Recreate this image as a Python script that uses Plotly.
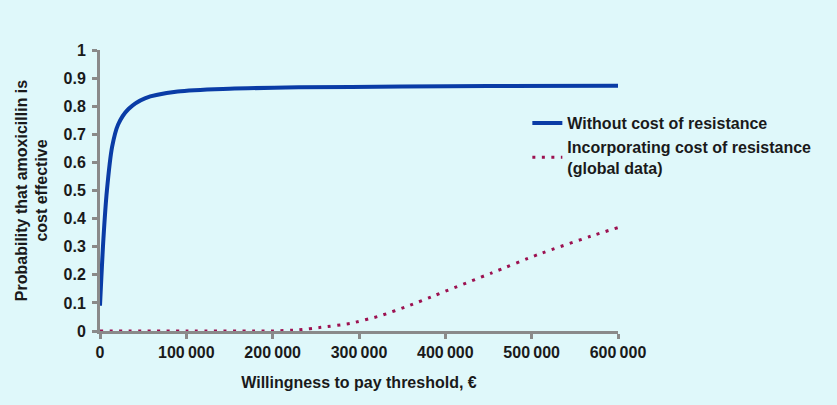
import plotly.graph_objects as go

# Data
wtp_without = [0, 4000, 8000, 14000, 21000, 33000, 52000, 90000, 150000, 230000, 350000, 450000, 600000]
prob_without = [0.09, 0.33, 0.50, 0.655, 0.735, 0.79, 0.828, 0.852, 0.862, 0.867, 0.870, 0.872, 0.873]

wtp_with = [0, 100000, 198000, 230000, 256000, 290000, 324500, 357000, 389000, 454000, 508000, 574000, 600000]
prob_with = [0, 0, 0, 0.004, 0.013, 0.027, 0.054, 0.089, 0.128, 0.207, 0.273, 0.343, 0.368]

x_tickvals = [0, 100000, 200000, 300000, 400000, 500000, 600000]
x_ticktext = ["0", "100\u2009000", "200\u2009000", "300\u2009000", "400\u2009000", "500\u2009000", "600\u2009000"]

series_names = ["Without cost of resistance", "Incorporating cost of resistance<br>(global data)"]

BG = "#dff8fa"
AXIS = "#8a8a8a"

fig = go.Figure()
fig.add_trace(go.Scatter(
    x=wtp_without, y=prob_without, mode="lines", name=series_names[0],
    line=dict(color="#0a3ca6", width=4, shape="spline", smoothing=0.8),
))
fig.add_trace(go.Scatter(
    x=wtp_with, y=prob_with, mode="lines", name=series_names[1],
    line=dict(color="#9c1150", width=3, dash="3px,6.5px", shape="spline", smoothing=0.5),
))

fig.update_layout(
    width=837, height=405,
    margin=dict(l=100, r=219, t=50, b=74),
    paper_bgcolor=BG, plot_bgcolor=BG,
    font=dict(family="Liberation Sans", size=16, weight="bold", color="#1a1a1a"),
    showlegend=True,
    legend=dict(x=0.825, y=0.80, xanchor="left", yanchor="top",
                bgcolor="rgba(0,0,0,0)", font=dict(size=16, weight="bold"),
                tracegroupgap=7),
    xaxis=dict(
        range=[0, 600000], tickvals=x_tickvals, ticktext=x_ticktext,
        showgrid=False, zeroline=False, showline=True, linecolor=AXIS, linewidth=3,
        ticks="outside", ticklen=5, tickwidth=3, tickcolor=AXIS,
        layer="below traces", automargin=False,
        title=dict(text="Willingness to pay threshold, \u20ac", standoff=17,
                   font=dict(size=16, weight="bold")),
    ),
    yaxis=dict(
        range=[0, 1], dtick=0.1, tick0=0,
        showgrid=False, zeroline=False, showline=True, linecolor=AXIS, linewidth=3,
        ticks="outside", ticklen=5, tickwidth=3, tickcolor=AXIS,
        ticklabelstandoff=3,
        layer="below traces", automargin=False,
        title=dict(text="Probability that amoxicillin is<br>cost effective", standoff=12,
                   font=dict(size=16, weight="bold")),
    ),
)

fig.write_html(
    "out.html",
    config={"displayModeBar": False},
    post_script="document.body.style.margin='0';document.body.style.background='" + BG + "';",
)
